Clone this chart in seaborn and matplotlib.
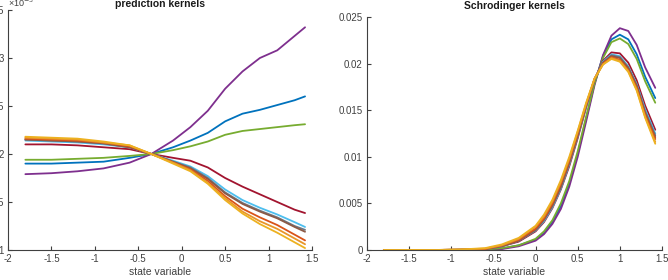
import numpy as np
import pandas as pd
import matplotlib
matplotlib.use("Agg")
import matplotlib.pyplot as plt
import seaborn as sns

# line names and colours (MATLAB-like order)
names = ["blue", "purple", "green", "darkred", "cyan", "slate", "brown", "orange", "gold", "yellow"]
colors = ["#0072BD", "#7E2F8E", "#77AC30", "#A2142F", "#4DBEEE", "#6B7886",
          "#8C5A46", "#D95319", "#E8962A", "#EDB120"]

# prediction kernels (values in units of 1e-3)
x_pred = [-1.8, -1.5, -1.2, -0.9, -0.6, -0.35, -0.1, 0.1, 0.3, 0.5, 0.7, 0.9, 1.1, 1.3, 1.42]
pred_blue = [1.90, 1.90, 1.91, 1.92, 1.96, 2.00, 2.07, 2.14, 2.22, 2.34, 2.42, 2.46, 2.51, 2.56, 2.60]
pred_purple = [1.79, 1.80, 1.82, 1.85, 1.91, 2.00, 2.14, 2.28, 2.45, 2.68, 2.86, 3.00, 3.08, 3.23, 3.32]
pred_green = [1.94, 1.94, 1.95, 1.96, 1.98, 2.00, 2.04, 2.08, 2.13, 2.20, 2.24, 2.26, 2.28, 2.30, 2.31]
pred_darkred = [2.10, 2.10, 2.09, 2.07, 2.05, 2.00, 1.96, 1.93, 1.86, 1.75, 1.66, 1.58, 1.50, 1.42, 1.385]
pred_cyan = [2.14, 2.13, 2.12, 2.10, 2.07, 2.00, 1.93, 1.87, 1.77, 1.63, 1.52, 1.44, 1.37, 1.29, 1.24]
pred_slate = [2.15, 2.14, 2.13, 2.11, 2.07, 2.00, 1.92, 1.86, 1.75, 1.60, 1.49, 1.41, 1.34, 1.25, 1.21]
pred_brown = [2.15, 2.14, 2.13, 2.11, 2.07, 2.00, 1.92, 1.85, 1.74, 1.59, 1.48, 1.40, 1.33, 1.24, 1.19]
pred_orange = [2.16, 2.15, 2.14, 2.12, 2.08, 2.00, 1.91, 1.84, 1.72, 1.56, 1.43, 1.34, 1.26, 1.16, 1.10]
pred_gold = [2.17, 2.16, 2.15, 2.12, 2.09, 2.00, 1.91, 1.83, 1.70, 1.54, 1.40, 1.30, 1.22, 1.12, 1.06]
pred_yellow = [2.18, 2.17, 2.16, 2.13, 2.09, 2.00, 1.90, 1.82, 1.69, 1.52, 1.38, 1.27, 1.18, 1.08, 1.02]

# schrodinger kernels
x_sch = [-1.8, -1.5, -1.2, -0.9, -0.6, -0.4, -0.2, 0.0, 0.1, 0.2, 0.3, 0.4, 0.5, 0.6, 0.7, 0.8, 0.9, 1.0, 1.1, 1.2, 1.3, 1.42]
sch_blue = [0, 0, 0, 0.00001, 0.00004, 0.00015, 0.0005, 0.0011, 0.0018, 0.0030, 0.0047, 0.0071, 0.0103, 0.0141, 0.0179, 0.0208, 0.0226, 0.0231, 0.0226, 0.0210, 0.0186, 0.0163]
sch_purple = [0, 0, 0, 0.00001, 0.00003, 0.0001, 0.0004, 0.0010, 0.0017, 0.0028, 0.0044, 0.0068, 0.0100, 0.0138, 0.0177, 0.0209, 0.0230, 0.0238, 0.0235, 0.0220, 0.0196, 0.0174]
sch_green = [0, 0, 0, 0.00001, 0.00005, 0.0002, 0.0005, 0.0012, 0.0020, 0.0032, 0.0050, 0.0074, 0.0106, 0.0143, 0.0179, 0.0206, 0.0223, 0.0227, 0.0221, 0.0205, 0.0181, 0.0158]
sch_darkred = [0, 0, 0, 0.00003, 0.0001, 0.0004, 0.0009, 0.0020, 0.0030, 0.0045, 0.0065, 0.0090, 0.0120, 0.0153, 0.0183, 0.0203, 0.0212, 0.0211, 0.0201, 0.0182, 0.0155, 0.0129]
sch_cyan = [0, 0, 0, 0.00003, 0.0001, 0.0004, 0.0010, 0.0021, 0.0031, 0.0046, 0.0066, 0.0092, 0.0122, 0.0154, 0.0183, 0.0202, 0.0210, 0.0208, 0.0197, 0.0178, 0.0151, 0.0125]
sch_slate = [0, 0, 0, 0.00003, 0.0001, 0.0004, 0.0010, 0.0021, 0.0032, 0.0047, 0.0067, 0.0093, 0.0122, 0.0154, 0.0183, 0.0201, 0.0209, 0.0207, 0.0196, 0.0177, 0.0149, 0.0123]
sch_brown = [0, 0, 0, 0.00003, 0.0001, 0.0004, 0.0010, 0.0022, 0.0033, 0.0048, 0.0068, 0.0094, 0.0123, 0.0155, 0.0183, 0.0201, 0.0208, 0.0206, 0.0195, 0.0176, 0.0147, 0.0121]
sch_orange = [0, 0, 0, 0.00004, 0.0001, 0.0005, 0.0011, 0.0023, 0.0034, 0.0050, 0.0071, 0.0096, 0.0125, 0.0156, 0.0184, 0.0200, 0.0207, 0.0204, 0.0193, 0.0174, 0.0145, 0.0119]
sch_gold = [0, 0, 0, 0.00005, 0.00015, 0.0005, 0.0012, 0.0025, 0.0036, 0.0052, 0.0073, 0.0098, 0.0127, 0.0157, 0.0184, 0.0199, 0.0206, 0.0203, 0.0192, 0.0172, 0.0143, 0.0116]
sch_yellow = [0, 0, 0, 0.00005, 0.0002, 0.0006, 0.0013, 0.0026, 0.0038, 0.0054, 0.0075, 0.0100, 0.0128, 0.0158, 0.0184, 0.0199, 0.0205, 0.0202, 0.0191, 0.0171, 0.0142, 0.0114]

pred_ticks = [1, 1.5, 2, 2.5, 3, 3.5]
pred_ticklabels = ["1", "1.5", "2", "2.5", "3", "3.5"]
sch_ticks = [0, 0.005, 0.01, 0.015, 0.02, 0.025]
sch_ticklabels = ["0", "0.005", "0.01", "0.015", "0.02", "0.025"]
x_ticks = [-2, -1.5, -1, -0.5, 0, 0.5, 1, 1.5]
x_ticklabels = ["-2", "-1.5", "-1", "-0.5", "0", "0.5", "1", "1.5"]

pred_series = [pred_blue, pred_purple, pred_green, pred_darkred, pred_cyan, pred_slate,
               pred_brown, pred_orange, pred_gold, pred_yellow]
sch_series = [sch_blue, sch_purple, sch_green, sch_darkred, sch_cyan, sch_slate,
              sch_brown, sch_orange, sch_gold, sch_yellow]


def to_long(xs, series):
    rows = []
    for nm, ys in zip(names, series):
        for xv, yv in zip(xs, ys):
            rows.append({"x": xv, "y": yv, "line": nm})
    return pd.DataFrame(rows)


df_pred = to_long(x_pred, pred_series)
df_sch = to_long(x_sch, sch_series)

sns.set_style("ticks")
plt.rcParams["font.family"] = ["Liberation Sans", "DejaVu Sans"]
txt = "#404040"
plt.rcParams.update({
    "xtick.direction": "in", "ytick.direction": "in",
    "xtick.major.size": 3, "ytick.major.size": 3,
    "xtick.color": txt, "ytick.color": txt,
    "axes.edgecolor": txt, "axes.linewidth": 0.8,
    "xtick.labelsize": 7, "ytick.labelsize": 7,
})

fig = plt.figure(figsize=(6.68, 2.80), dpi=100)
ax1 = fig.add_axes([8 / 668, 1 - 250 / 280, 304 / 668, 240 / 280])
ax2 = fig.add_axes([367 / 668, 1 - 250 / 280, 295 / 668, 233 / 280])

pal = dict(zip(names, colors))
sns.lineplot(data=df_pred, x="x", y="y", hue="line", palette=pal, legend=False,
             ax=ax1, linewidth=1.3, sort=False)
sns.lineplot(data=df_sch, x="x", y="y", hue="line", palette=pal, legend=False,
             ax=ax2, linewidth=1.3, sort=False)

ax1.set_xlim(-2, 1.5)
ax1.set_ylim(1, 3.5)
ax1.set_yticks(pred_ticks)
ax1.set_yticklabels(pred_ticklabels)
ax1.set_title("prediction kernels", fontsize=7.5, fontweight="bold", color="#1a1a1a", pad=2)
ax1.text(0.0, 1.005, "×10$^{-3}$", transform=ax1.transAxes, fontsize=6.5, color=txt,
         ha="left", va="bottom")

ax2.set_xlim(-2, 1.5)
ax2.set_ylim(0, 0.025)
ax2.set_yticks(sch_ticks)
ax2.set_yticklabels(sch_ticklabels)
ax2.set_title("Schrodinger kernels", fontsize=7.5, fontweight="bold", color="#1a1a1a", pad=6)

for ax in (ax1, ax2):
    ax.set_xticks(x_ticks)
    ax.set_xticklabels(x_ticklabels)
    ax.set_xlabel("state variable", fontsize=7.5, color=txt, labelpad=2)
    ax.set_ylabel("")
    ax.tick_params(pad=3)
    sns.despine(ax=ax)

fig.savefig("out.png", dpi=100)
